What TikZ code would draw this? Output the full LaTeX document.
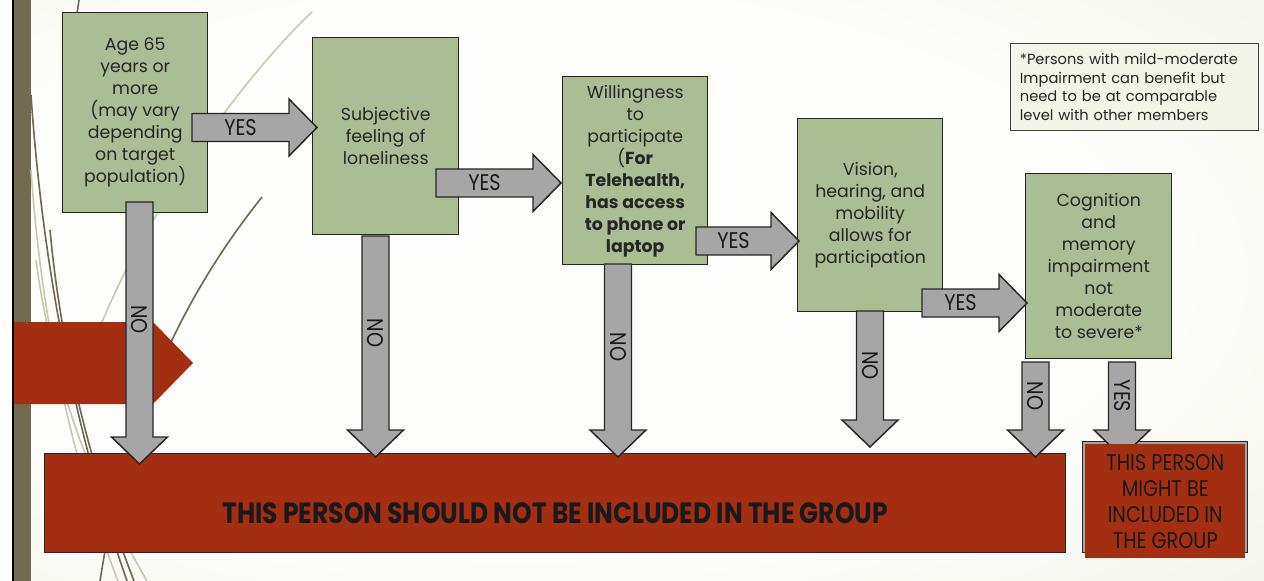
\documentclass[tikz,border=0pt]{standalone}
\usepackage{fontspec}
\setmainfont{Poppins}
\newfontfamily\narrowfont[FakeStretch=0.85]{Poppins}
\usetikzlibrary{calc}

\definecolor{barolive}{HTML}{736B50}
\definecolor{brick}{HTML}{A32E12}
\definecolor{sage}{HTML}{ABBD93}
\definecolor{arrowgray}{HTML}{A6A6A6}
\definecolor{bgcenter}{HTML}{FDFDFB}
\definecolor{bgedge}{HTML}{E2E8CA}
\definecolor{wispdark}{HTML}{6E6850}
\definecolor{wisplight}{HTML}{C6CAB2}

\pgfdeclareradialshading{slidebg}{\pgfpoint{-6bp}{2bp}}{%
  color(0bp)=(bgcenter); color(24bp)=(bgcenter); color(72bp)=(bgedge); color(90bp)=(bgedge)}

% fat horizontal arrow: shaft from #1, tip at #2, label #3, label name #4
\newcommand{\blockright}[4]{%
  \filldraw[fatarrow] ($(#1)+(0,-14)$) -- ($(#2)+(-28,-14)$) -- ($(#2)+(-28,-28.5)$) -- (#2)
    -- ($(#2)+(-28,28.5)$) -- ($(#2)+(-28,14)$) -- ($(#1)+(0,14)$) -- cycle;
  \node[arrowlabel] (#4) at ($(#1)!0.5!(#2)+(-14,0)$) {#3};}
% fat downward arrow, same arguments
\newcommand{\blockdown}[4]{%
  \filldraw[fatarrow] ($(#1)+(-13.5,0)$) -- ($(#2)+(-13.5,-27)$) -- ($(#2)+(-28,-27)$) -- (#2)
    -- ($(#2)+(28,-27)$) -- ($(#2)+(13.5,-27)$) -- ($(#1)+(13.5,0)$) -- cycle;
  \node[arrowlabel, rotate=-90] (#4) at ($(#1)!0.5!(#2)+(0,-13.5)$) {#3};}

\begin{document}
\begin{tikzpicture}[x=0.75pt, y=-0.75pt,
    greenbox/.style={draw=black!85, line width=1.1pt, fill=sage, text=black!85,
      align=center, anchor=north west, inner sep=2pt,
      font=\fontsize{13}{16.5}\selectfont},
    fatarrow/.style={fill=arrowgray, draw=black!85, line width=1.1pt},
    arrowlabel/.style={text=black!90, inner sep=0pt, font=\narrowfont\fontsize{17}{17}\selectfont},
    wisp dark/.style={draw=wispdark, line width=1.2pt},
    wisp light/.style={draw=wisplight, line width=1.2pt}]
  \useasboundingbox (0,0) rectangle (1264,581);

  % slide background
  \shade[shading=slidebg] (0,0) rectangle (1264,581);
  \fill[white] (0,0) rectangle (12,581);
  \fill[black] (12,0) rectangle (14,581);
  \fill[barolive] (14,0) rectangle (31,581);

  % thin curves at the left
  \draw[wisp light] (31,170) .. controls (42,330) and (75,470) .. (118,581);
  \draw[wisp light] (36,260) .. controls (55,400) and (100,500) .. (147,581);
  \draw[wisp dark] (31,95) .. controls (45,300) and (85,460) .. (127,581);
  \draw[wisp dark] (50,230) .. controls (62,360) and (95,480) .. (134,581);
  \draw[wisp light] (312,12) .. controls (240,80) and (140,220) .. (95,340);
  \draw[wisp dark] (262,197) .. controls (180,300) and (125,420) .. (100,581);
  \draw[wisp dark] (79,0) -- (77,14);

  % red marker arrow on the left edge
  \fill[brick] (14,322) -- (153,322) -- (193,363) -- (153,404) -- (14,404) -- cycle;

  % criteria
  \node[greenbox, minimum width=108.75pt, minimum height=150pt] (age) at (62,12)
    {Age 65\\years or\\more\\(may vary\\depending\\on target\\population)};
  \node[greenbox, minimum width=109.5pt, minimum height=147.75pt] (lonely) at (312,37)
    {Subjective\\feeling of\\loneliness};
  \node[greenbox, minimum width=108.75pt, minimum height=141pt] (willing) at (562,76)
    {Willingness\\to\\participate\\(\textbf{For}\\\textbf{Telehealth,}\\\textbf{has access}\\\textbf{to phone or}\\\textbf{laptop}};
  \node[greenbox, minimum width=108.75pt, minimum height=144.75pt] (senses) at (797,118)
    {Vision,\\hearing, and\\mobility\\allows for\\participation};
  \node[greenbox, minimum width=109.5pt, minimum height=138.75pt] (cognition) at (1025,173)
    {Cognition\\and\\memory\\impairment\\not\\moderate\\to severe*};

  \node[draw=black!75, line width=0.8pt, fill=bgcenter!60!bgedge, anchor=north west,
    minimum width=186pt, minimum height=65.25pt, text width=172pt, inner xsep=7pt,
    align=left, text=black!85, font=\fontsize{11}{14}\selectfont] (note) at (1010,43)
    {*Persons with mild-moderate\\Impairment can benefit but\\need to be at comparable\\level with other members};

  % outcomes
  \node[draw=black!85, line width=1.1pt, fill=brick, anchor=north west,
    minimum width=765.75pt, minimum height=74.25pt, text height=30pt, text depth=0pt,
    text=black!90, font=\narrowfont\bfseries\fontsize{22}{24}\selectfont] (excluded) at (44,453)
    {THIS PERSON SHOULD NOT BE INCLUDED IN THE GROUP};
  \node[draw=black!85, line width=1.1pt, fill=arrowgray, anchor=north west,
    minimum width=123.75pt, minimum height=83.25pt, inner sep=0pt] (maybeframe) at (1082,441) {};

  % yes / no paths
  \coordinate (y1s) at (192,127.5);  \coordinate (y1t) at (317,127.5);
  \coordinate (y2s) at (436,183);    \coordinate (y2t) at (561,183);
  \coordinate (y3s) at (696,241);    \coordinate (y3t) at (799,241);
  \coordinate (y4s) at (922,303);    \coordinate (y4t) at (1027,303);
  \coordinate (n1s) at (139.5,202);  \coordinate (n1t) at (139.5,464);
  \coordinate (n2s) at (375.5,236);  \coordinate (n2t) at (375.5,457);
  \coordinate (n3s) at (618,264);    \coordinate (n3t) at (618,457);
  \coordinate (n4s) at (870,311);    \coordinate (n4t) at (870,447);
  \coordinate (n5s) at (1035.5,362); \coordinate (n5t) at (1035.5,457);
  \coordinate (y5s) at (1122,362);   \coordinate (y5t) at (1122,457);

  \blockright{y1s}{y1t}{YES}{yes1}
  \blockright{y2s}{y2t}{YES}{yes2}
  \blockright{y3s}{y3t}{YES}{yes3}
  \blockright{y4s}{y4t}{YES}{yes4}
  \blockdown{n1s}{n1t}{NO}{no1}
  \blockdown{n2s}{n2t}{NO}{no2}
  \blockdown{n3s}{n3t}{NO}{no3}
  \blockdown{n4s}{n4t}{NO}{no4}
  \blockdown{n5s}{n5t}{NO}{no5}
  \blockdown{y5s}{y5t}{YES}{yes5}

  \node[fill=brick, anchor=north west, minimum width=120pt, minimum height=85.5pt,
    align=center, text=black!90, font=\narrowfont\fontsize{17}{19.5}\selectfont] (maybe) at (1085,444)
    {THIS PERSON\\MIGHT BE\\INCLUDED IN\\THE GROUP};
\end{tikzpicture}
\end{document}
